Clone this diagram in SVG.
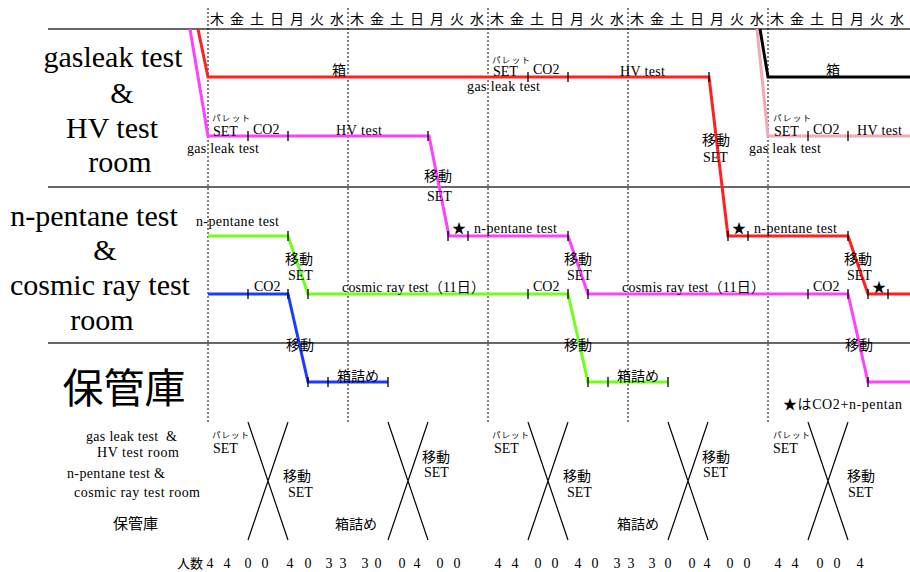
<svg xmlns="http://www.w3.org/2000/svg" width="910" height="572" viewBox="0 0 910 572">
<style>
.t{font-family:"Liberation Serif","Noto Sans CJK JP",serif;font-size:14px;fill:#000}
.big{font-size:30px}
.kk{font-size:15px}
.hd{font-size:14px}
.kana{font-size:8.5px}
.sep{stroke:#333;stroke-width:1.6;fill:none}
.dash{stroke:#000;stroke-width:1;stroke-dasharray:2 2;fill:none}
.ln{stroke-width:3;fill:none;stroke-linejoin:miter}
.r{stroke:#ff2020}
.m{stroke:#ff40ff}
.g{stroke:#70ff1a}
.b{stroke:#1a3cff}
.p{stroke:#f5a8b8}
.k{stroke:#000}
.tk{stroke:#000;stroke-width:1.3;fill:none}
.x{stroke:#000;stroke-width:1.2;fill:none}
</style>
<rect width="910" height="572" fill="#fff"/>

<g id="grid">
<line class="sep" x1="48" y1="29" x2="910" y2="29"/>
<line class="sep" x1="48" y1="187" x2="910" y2="187"/>
<line class="sep" x1="48" y1="343" x2="910" y2="343"/>
<line class="dash" x1="208" y1="8" x2="208" y2="424"/>
<line class="dash" x1="348" y1="8" x2="348" y2="424"/>
<line class="dash" x1="488" y1="8" x2="488" y2="424"/>
<line class="dash" x1="628" y1="8" x2="628" y2="424"/>
<line class="dash" x1="768" y1="8" x2="768" y2="424"/>
</g>

<g id="header" class="t hd" text-anchor="middle">
<text x="217" y="24">木</text><text x="237" y="24">金</text><text x="257" y="24">土</text><text x="277" y="24">日</text><text x="297" y="24">月</text><text x="317" y="24">火</text><text x="337" y="24">水</text>
<text x="357" y="24">木</text><text x="377" y="24">金</text><text x="397" y="24">土</text><text x="417" y="24">日</text><text x="437" y="24">月</text><text x="457" y="24">火</text><text x="477" y="24">水</text>
<text x="497" y="24">木</text><text x="517" y="24">金</text><text x="537" y="24">土</text><text x="557" y="24">日</text><text x="577" y="24">月</text><text x="597" y="24">火</text><text x="617" y="24">水</text>
<text x="637" y="24">木</text><text x="657" y="24">金</text><text x="677" y="24">土</text><text x="697" y="24">日</text><text x="717" y="24">月</text><text x="737" y="24">火</text><text x="757" y="24">水</text>
<text x="777" y="24">木</text><text x="797" y="24">金</text><text x="817" y="24">土</text><text x="837" y="24">日</text><text x="857" y="24">月</text><text x="877" y="24">火</text><text x="897" y="24">水</text>
</g>

<g id="room-labels" class="t big" text-anchor="middle">
<text x="113" y="67">gasleak test</text>
<text x="122" y="103">&amp;</text>
<text x="112" y="138">HV test</text>
<text x="120" y="172">room</text>
<text x="94" y="226">n-pentane test</text>
<text x="105" y="260">&amp;</text>
<text x="100" y="295">cosmic ray test</text>
<text x="102" y="330">room</text>
<text x="124" y="403" style="font-size:41px">保管庫</text>
</g>

<g id="connectors">
<polyline class="ln r" points="198,29 208,77 709,77 728,236 848,236 868,294 910,294"/>
<polyline class="ln m" points="190,29 208,136 429,136 449,236 568,236 588,294 848,294 868,382 910,382"/>
<polyline class="ln p" points="757,29 768,136 910,136"/>
<polyline class="ln k" points="760,29 768,77 910,77"/>
<polyline class="ln g" points="208,236 288,236 308,294 568,294 588,382 668,382"/>
<polyline class="ln b" points="208,294 288,294 308,382 388,382"/>
<path class="tk" d="M528,72v10M568,72v10M709,72v10
M248,131v10M288,131v10M428,131v10
M808,131v10M848,131v10
M448,231v10M468,231v10M568,231v10
M728,231v10M748,231v10M848,231v10
M288,231v10
M248,289v10M288,289v10
M308,289v10M528,289v10M568,289v10
M588,289v10M808,289v10M848,289v10
M868,289v10M888,289v10
M308,377v10M328,377v10M388,377v10
M588,377v10M608,377v10M668,377v10
M868,377v10"/>
</g>

<g id="row1-labels" class="t">
<text x="332" y="75">箱</text>
<text class="kana" x="492" y="63" textLength="38">パレット</text>
<text x="493" y="76">SET</text>
<text x="533" y="74">CO2</text>
<text x="467" y="91" textLength="73">gas leak test</text>
<text x="620" y="76" textLength="45">HV test</text>
<text x="702" y="145">移動</text>
<text x="703" y="162">SET</text>
<text x="826" y="75">箱</text>
<text class="kana" x="212" y="121" textLength="38">パレット</text>
<text x="213" y="136">SET</text>
<text x="253" y="134">CO2</text>
<text x="336" y="135" textLength="46">HV test</text>
<text x="187" y="153" textLength="72">gas leak test</text>
<text x="424" y="181">移動</text>
<text x="427" y="201">SET</text>
<text class="kana" x="773" y="121" textLength="38">パレット</text>
<text x="774" y="136">SET</text>
<text x="813" y="134">CO2</text>
<text x="857" y="135" textLength="45">HV test</text>
<text x="749" y="153" textLength="72">gas leak test</text>
</g>

<g id="row2-labels" class="t">
<text x="196" y="226" textLength="83">n-pentane test</text>
<text x="285" y="264">移動</text>
<text x="288" y="280">SET</text>
<text x="254" y="291">CO2</text>
<text x="342" y="292" textLength="143">cosmic ray test（11日）</text>
<text x="452" y="233">★</text>
<text x="474" y="233" textLength="83">n-pentane test</text>
<text x="564" y="264">移動</text>
<text x="567" y="280">SET</text>
<text x="533" y="291">CO2</text>
<text x="622" y="292" textLength="143">cosmis ray test（11日）</text>
<text x="732" y="233">★</text>
<text x="754" y="233" textLength="83">n-pentane test</text>
<text x="844" y="264">移動</text>
<text x="847" y="280">SET</text>
<text x="813" y="291">CO2</text>
<text x="872" y="292">★</text>
</g>

<g id="row3-labels" class="t">
<text x="286" y="350">移動</text>
<text x="337" y="381">箱詰め</text>
<text x="564" y="350">移動</text>
<text x="617" y="381">箱詰め</text>
<text x="845" y="350">移動</text>
<text x="783" y="409" textLength="119">★はCO2+n-pentan</text>
</g>

<g id="summary">
<g class="t">
<text x="86" y="441" textLength="91">gas leak test &#160;&amp;</text>
<text x="97" y="457" textLength="82">HV test room</text>
<text x="67" y="478" textLength="98">n-pentane test &amp;</text>
<text x="74" y="497" textLength="126">cosmic ray test room</text>
<text class="kk" x="113" y="529">保管庫</text>
</g>
<path class="x" d="M248,422L288,540M288,422L248,540M388,422L428,540M428,422L388,540M528,422L568,540M568,422L528,540M668,422L708,540M708,422L668,540M808,422L848,540M848,422L808,540"/>
<g class="t">
<text class="kana" x="212" y="438" textLength="37">パレット</text>
<text x="213" y="453">SET</text>
<text x="283" y="481">移動</text>
<text x="288" y="497">SET</text>
<text x="335" y="529">箱詰め</text>
<text x="422" y="462">移動</text>
<text x="424" y="477">SET</text>
<text class="kana" x="492" y="438" textLength="37">パレット</text>
<text x="494" y="453">SET</text>
<text x="563" y="481">移動</text>
<text x="567" y="497">SET</text>
<text x="617" y="529">箱詰め</text>
<text x="702" y="462">移動</text>
<text x="703" y="477">SET</text>
<text class="kana" x="773" y="438" textLength="37">パレット</text>
<text x="773" y="453">SET</text>
<text x="847" y="481">移動</text>
<text x="848" y="497">SET</text>
</g>
<text class="t" x="177" y="568" style="font-size:13px">人数</text>
<text class="t" y="568" text-anchor="middle" x="210 227 248 265 290 308 329 343 365 378 402 417 440 457 498 515 538 555 578 595 617 631 652 668 692 707 730 747 778 795 820 837 860">440040333004004400403330040044004</text>
</g>
</svg>
